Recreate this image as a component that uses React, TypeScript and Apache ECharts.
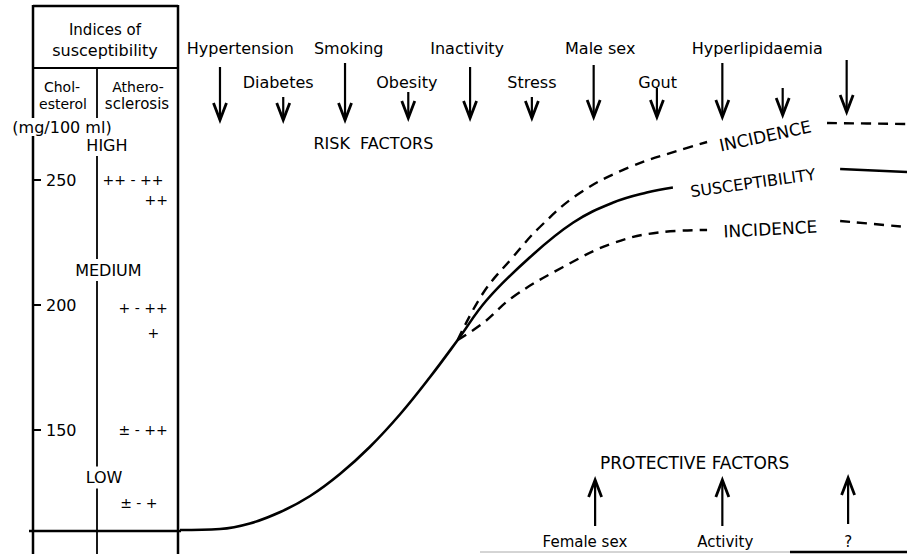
import React, { useEffect, useRef } from "react";
import * as echarts from "echarts";

// ---------- data ----------
// Cholesterol scale (mg/100 ml) of the index column
const cholesterolTicks = [150, 200, 250];

// Susceptibility levels and atherosclerosis grades (column position 0-100, cholesterol level)
const levelNames = ["HIGH", "MEDIUM", "LOW"];
const levelChol = [264, 214, 131];
const levelCol = [51, 52, 49];

const atheroGrades = ["++ - ++", "++", "+ - ++", "+", "± - ++", "± - +"];
const atheroChol = [250, 242, 199, 189, 150, 121];
const atheroCol = [69, 85, 76, 83, 76, 73];

// Common trunk of the curves (exposure 0-100, index in cholesterol units)
const trunkExposure = [0, 5.5, 9.6, 13.8, 17.9, 22, 26.1, 30.3, 34.4, 38.2];
const trunkIndex = [110, 110.4, 112.6, 117.2, 123.6, 132.4, 143.2, 156.4, 171.2, 186];

// Susceptibility (solid) after branching
const suscNearExposure = [42.2, 48.1, 54.1, 59.6, 64.2, 67.8];
const suscNearIndex = [202, 219, 233, 241, 245, 247];
const suscFarExposure = [90.8, 100];
const suscFarIndex = [254.4, 253.2];

// Upper incidence (dashed)
const upperNearExposure = [41.7, 45.8, 49.5, 55, 61.9, 68.8, 72.5];
const upperNearIndex = [204.8, 219.2, 231.2, 244.8, 255.2, 262, 265.2];
const upperFarExposure = [89, 100];
const upperFarIndex = [272.8, 272.4];

// Lower incidence (dashed)
const lowerNearExposure = [41.7, 45.8, 52.7, 59.6, 66.4, 72.5];
const lowerNearIndex = [192.8, 203.2, 215.2, 224.8, 229.2, 230];
const lowerFarExposure = [90.8, 100];
const lowerFarIndex = [233.6, 231.2];

// Curve labels
const curveLabels = ["INCIDENCE", "SUSCEPTIBILITY", "INCIDENCE"];
const curveLabelExposure = [80.5, 78.8, 81.2];
const curveLabelIndex = [267.6, 248.8, 230.4];

// Risk factors
const riskFactors = ["Hypertension", "Diabetes", "Smoking", "Obesity", "Inactivity", "Stress", "Male sex", "Gout", "Hyperlipidaemia"];
const riskLabelExposure = [8.3, 13.5, 23.2, 31.2, 39.5, 48.4, 57.8, 65.7, 79.4];
const riskLabelIndex = [302.8, 289.2, 302.8, 289.2, 302.8, 289.2, 302.8, 289.2, 302.8];
const riskArrowExposure = [5.5, 14.2, 22.7, 31.4, 39.9, 48.4, 56.9, 65.6, 74.6, 82.9, 91.7];
const riskArrowStart = [295.2, 283.2, 296.8, 285.2, 295.2, 283.2, 296, 286.8, 296.8, 286.8, 298];
const riskArrowTip = [274, 274, 274, 274.8, 274.8, 274.8, 275.2, 275.2, 275.2, 276, 277.2];

// Protective factors
const protectiveFactors = ["Female sex", "Activity", "?"];
const protLabelExposure = [55.7, 75, 91.9];
const protLabelIndex = [105.2, 105.2, 105.2];
const protArrowExposure = [57.1, 74.6, 91.9];
const protArrowStart = [111.6, 111.6, 112.4];
const protArrowTip = [130, 130, 130.8];

// Group titles
const groupTitles = ["RISK  FACTORS", "PROTECTIVE FACTORS"];
const groupTitleExposure = [26.6, 70.8];
const groupTitleIndex = [264.8, 136.8];

// ---------- styling ----------
const INK = "#000";
const FONT = "'DejaVu Sans', 'Liberation Sans', Arial, sans-serif";
const CURVE_ROTATE = [12, 8, 3];

const pts = (xs: number[], ys: number[]) => xs.map((x, i) => [x, ys[i]]);
const GAP: any = ["-", "-"];
const junction = [trunkExposure[trunkExposure.length - 1], trunkIndex[trunkIndex.length - 1]];

const arrowRender = (params: any, api: any) => {
  const a = api.coord([api.value(0), api.value(1)]);
  const b = api.coord([api.value(0), api.value(2)]);
  const dir = b[1] > a[1] ? 1 : -1;
  return {
    type: "group",
    children: [
      { type: "line", shape: { x1: a[0], y1: a[1], x2: b[0], y2: b[1] }, style: { stroke: INK, lineWidth: 2.2 } },
      {
        type: "polyline",
        shape: { points: [[b[0] - 6.5, b[1] - dir * 17], [b[0], b[1]], [b[0] + 6.5, b[1] - dir * 17]] },
        style: { stroke: INK, fill: null, lineWidth: 2.8, lineJoin: "miter" },
      },
    ],
  };
};

const textSeries = (items: any[], axis: number, z = 10) => ({
  type: "scatter",
  xAxisIndex: axis,
  yAxisIndex: axis,
  symbol: "circle",
  symbolSize: 0.5,
  silent: true,
  z,
  itemStyle: { color: "#fff" },
  label: {
    show: true,
    position: "inside",
    formatter: "{b}",
    color: INK,
    opacity: 1,
    textBorderWidth: 0,
    textBorderColor: "transparent",
    fontFamily: FONT,
    fontSize: 16,
  },
  emphasis: { disabled: true },
  labelLayout: { hideOverlap: false },
  data: items,
});

const gLine = (x1: number, y1: number, x2: number, y2: number, w: number, color = INK) => ({
  type: "line",
  z: 0,
  shape: { x1, y1, x2, y2 },
  style: { stroke: color, lineWidth: w },
  silent: true,
});
const gText = (text: string, x: number, y: number, size = 15, bg?: string) => ({
  type: "text",
  z: 100,
  x,
  y,
  style: {
    text,
    fontSize: size,
    fontFamily: FONT,
    fill: INK,
    align: "center",
    verticalAlign: "middle",
    backgroundColor: bg,
    padding: bg ? [1, 1] : 0,
  },
  silent: true,
});

export default function App() {
  const ref = useRef<HTMLDivElement>(null);
  useEffect(() => {
    const chart = echarts.init(ref.current!, null, { renderer: "svg" });
    const curveBase = {
      type: "line",
      xAxisIndex: 1,
      yAxisIndex: 1,
      symbol: "none",
      smooth: 0.4,
      silent: true,
    };
    const option: any = {
      animation: false,
      backgroundColor: "#fff",
      grid: [
        { left: 33, width: 145, top: 5, bottom: 4 },
        { left: 180, right: 0, top: 5, bottom: 4 },
      ],
      xAxis: [
        { type: "value", gridIndex: 0, min: 0, max: 100, show: false },
        { type: "value", gridIndex: 1, min: 0, max: 100, show: false },
      ],
      yAxis: [
        {
          type: "value",
          gridIndex: 0,
          min: 102,
          max: 320,
          axisLine: { show: false },
          splitLine: { show: false },
          axisTick: { show: true, inside: true, length: 8, customValues: cholesterolTicks, lineStyle: { color: INK, width: 2 } },
          axisLabel: { show: true, inside: true, margin: 13, customValues: cholesterolTicks, color: INK, fontSize: 16, fontFamily: FONT },
        },
        { type: "value", gridIndex: 1, min: 102, max: 320, show: false },
      ],
      graphic: [
        gLine(33, 6, 178, 6, 2.5),
        gLine(33, 5, 33, 554, 2.5),
        gLine(178, 5, 178, 554, 2.5),
        gLine(33, 68, 178, 68, 2),
        gLine(97, 68, 97, 554, 1.8),
        gLine(29, 531, 181, 531, 2.5),
        gLine(480, 552, 790, 552, 1, "#aaa"),
        gLine(790, 552, 907, 552, 2.5),
        gText("Indices of", 105, 30, 15),
        gText("susceptibility", 105, 50, 16),
        gText("Chol-", 62, 87, 14),
        gText("esterol", 63, 104, 14),
        gText("Athero-", 138, 87, 14),
        gText("sclerosis", 137, 104, 15),
        gText("(mg/100 ml)", 62, 127, 16, "#fff"),
      ],
      series: [
        {
          ...curveBase,
          lineStyle: { color: INK, width: 2.6 },
          data: [...pts(trunkExposure, trunkIndex), ...pts(suscNearExposure, suscNearIndex), GAP, ...pts(suscFarExposure, suscFarIndex)],
        },
        {
          ...curveBase,
          lineStyle: { color: INK, width: 2.4, type: [10, 7] },
          data: [junction, ...pts(upperNearExposure, upperNearIndex), GAP, ...pts(upperFarExposure, upperFarIndex)],
        },
        {
          ...curveBase,
          lineStyle: { color: INK, width: 2.4, type: [10, 7] },
          data: [junction, ...pts(lowerNearExposure, lowerNearIndex), GAP, ...pts(lowerFarExposure, lowerFarIndex)],
        },
        {
          type: "custom",
          xAxisIndex: 1,
          yAxisIndex: 1,
          silent: true,
          renderItem: arrowRender,
          data: riskArrowExposure.map((x, i) => [x, riskArrowStart[i], riskArrowTip[i]]),
        },
        {
          type: "custom",
          xAxisIndex: 1,
          yAxisIndex: 1,
          silent: true,
          renderItem: arrowRender,
          data: protArrowExposure.map((x, i) => [x, protArrowStart[i], protArrowTip[i]]),
        },
        textSeries(
          [
            ...levelNames.map((n, i) => ({
              name: n,
              value: [levelCol[i], levelChol[i]],
              label: { backgroundColor: "#fff", padding: [3, 2] },
            })),
            ...atheroGrades.map((n, i) => ({ name: n, value: [atheroCol[i], atheroChol[i]], label: { fontSize: 14 } })),
          ],
          0,
          20
        ),
        textSeries(
          [
            ...riskFactors.map((n, i) => ({ name: n, value: [riskLabelExposure[i], riskLabelIndex[i]] })),
            ...protectiveFactors.map((n, i) => ({ name: n, value: [protLabelExposure[i], protLabelIndex[i]], label: { fontSize: 15 } })),
            ...groupTitles.map((n, i) => ({ name: n, value: [groupTitleExposure[i], groupTitleIndex[i]], label: { fontSize: i === 0 ? 16 : 17 } })),
            ...curveLabels.map((n, i) => ({
              name: n,
              value: [curveLabelExposure[i], curveLabelIndex[i]],
              label: { rotate: CURVE_ROTATE[i], fontSize: i === 1 ? 16 : 17 },
            })),
          ],
          1,
          10
        ),
      ],
    };
    chart.setOption(option);
    return () => chart.dispose();
  }, []);
  return (
    <div
      ref={ref}
      style={{ position: "fixed", left: 0, top: 0, width: 907, height: 554, background: "#fff" }}
    />
  );
}
